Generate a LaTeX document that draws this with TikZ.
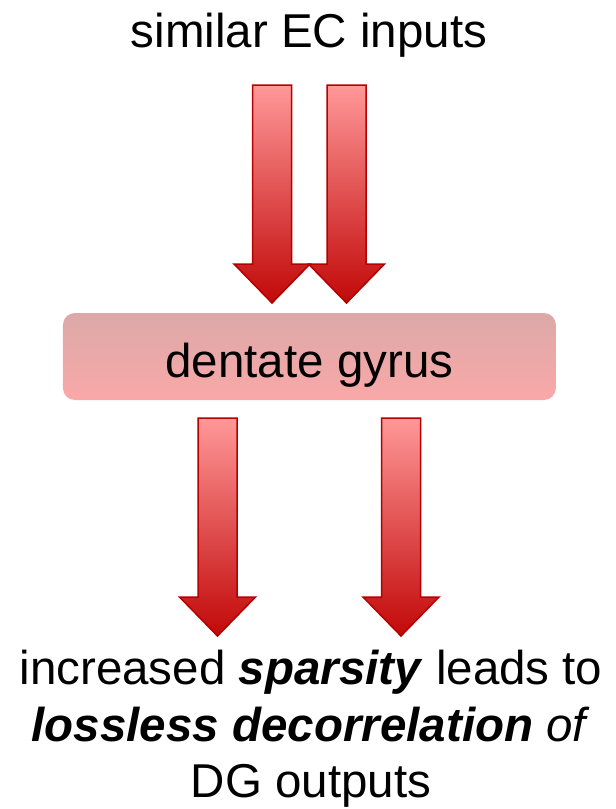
\documentclass[tikz,border=0pt]{standalone}
\usepackage{fontspec}
\setmainfont{Liberation Sans}
\usetikzlibrary{calc}

\definecolor{arrowtop}{RGB}{255,152,152}
\definecolor{arrowbottom}{RGB}{194,8,8}
\definecolor{arrowedge}{RGB}{180,0,0}
\definecolor{boxtop}{RGB}{219,169,168}
\definecolor{boxbottom}{RGB}{250,168,168}

\tikzset{
  label text/.style={font=\fontsize{47.5}{56.5}\selectfont, inner sep=0pt, text=black},
  blockarrow/.style={top color=arrowtop, bottom color=arrowbottom, draw=arrowedge,
                     line width=1.5pt, line join=miter},
  regionbox/.style={top color=boxtop, bottom color=boxbottom, rounded corners=12pt,
                    minimum width=493pt, minimum height=87pt, inner sep=0pt,
                    text height=41pt, text depth=0pt,
                    font=\fontsize{47.5}{57.5}\selectfont}
}

% block arrow pointing down: centre x, top y, tip y
\newcommand\downblock[4]{%
  \path[blockarrow] ({#2-19.5},#3) -- ({#2+19.5},#3) -- ({#2+19.5},{#4-39})
    -- ({#2+38},{#4-39}) -- (#2,#4) -- ({#2-38},{#4-39}) -- ({#2-19.5},{#4-39}) -- cycle;
  \coordinate (#1) at (#2,#4);}

\begin{document}
\begin{tikzpicture}[x=1pt,y=-1pt]
  \useasboundingbox (0,0) rectangle (616,809);

  \node[label text, anchor=base] (ec) at (309,47) {similar EC inputs};

  \downblock{ecA}{272}{85}{303}
  \downblock{ecB}{346.5}{85}{303}

  \node[regionbox] (dg) at (309.4,356.5) {dentate gyrus};

  \downblock{dgA}{217.5}{418}{636}
  \downblock{dgB}{401}{418}{636}

  \node[label text, align=center, anchor=north] (out) at (311,650)
    {increased \textbf{\textit{sparsity}} leads to\\
     \textbf{\textit{lossless decorrelation}} \textit{of}\\
     DG outputs};
\end{tikzpicture}
\end{document}
